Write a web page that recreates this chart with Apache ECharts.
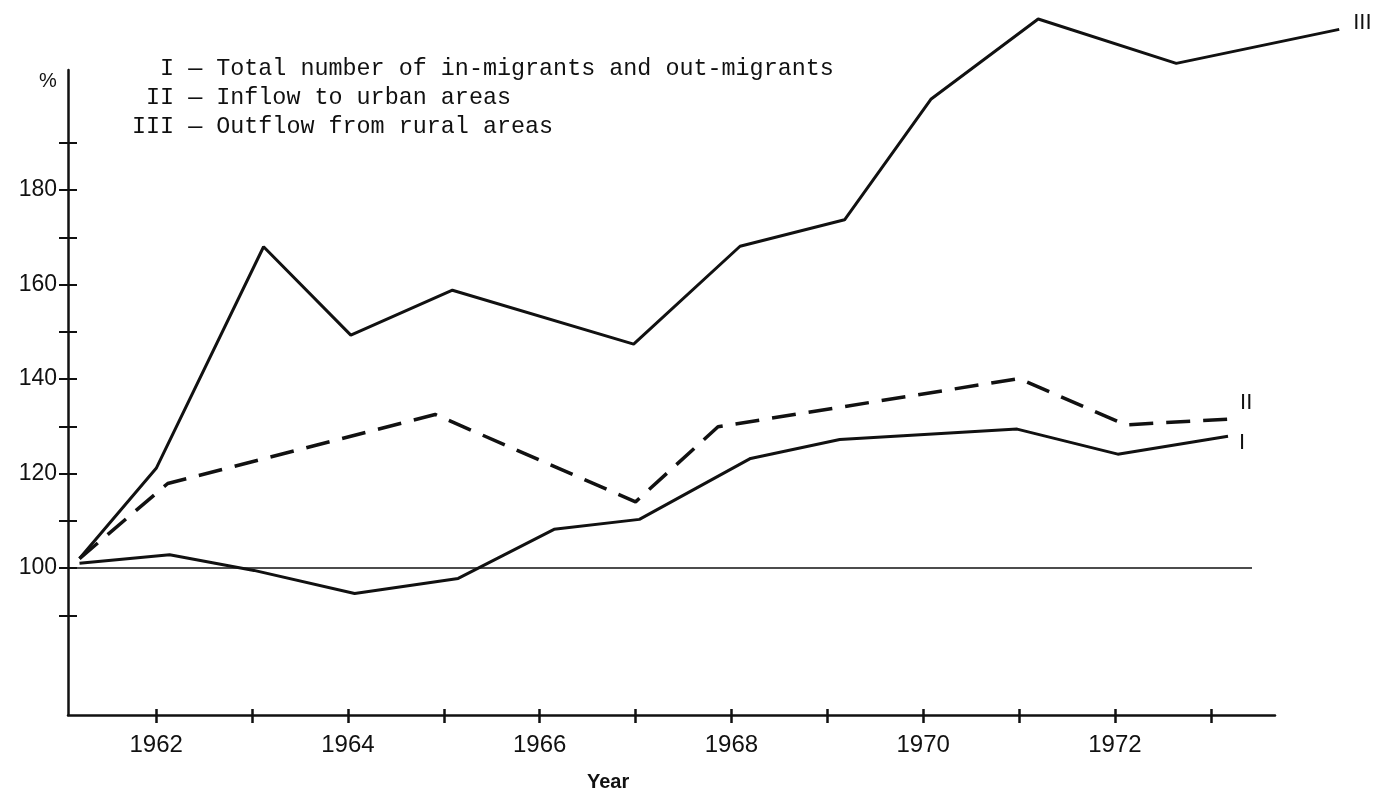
<!DOCTYPE html>
<html>
<head>
<meta charset="utf-8">
<title>Migration indices 1961-1973</title>
<script src="https://cdn.jsdelivr.net/npm/echarts@6.0.0/dist/echarts.min.js"></script>
<style>
  html, body { margin: 0; padding: 0; background: #fff; }
  #main { width: 1386px; height: 796px; }
</style>
</head>
<body>
<div id="main"></div>
<script>
// index, 1961 = 100; x = position in years
const totalMigrants = [
  [1961.2, 101], [1962.14, 102.8], [1963.02, 99.5], [1964.07, 94.6], [1965.15, 97.8],
  [1966.15, 108.2], [1967.04, 110.3], [1968.2, 123.2], [1969.13, 127.2],
  [1970.98, 129.4], [1972.03, 124.1], [1973.18, 127.9]
];
const urbanInflow = [
  [1961.2, 102], [1962.12, 117.9], [1964.91, 132.5], [1967.0, 114.0],
  [1967.86, 129.9], [1971.0, 140.1], [1972.11, 130.3], [1973.18, 131.5]
];
const ruralOutflow = [
  [1961.2, 102], [1962.0, 121.1], [1963.12, 168.0], [1964.03, 149.3],
  [1965.09, 158.8], [1966.98, 147.4], [1968.09, 168.1], [1969.18, 173.7],
  [1970.08, 199.2], [1971.2, 216.2], [1972.64, 206.8], [1974.34, 214.0]
];
const baseline = [[1961.08, 100], [1973.43, 100]];

const yearTicks = [1962, 1963, 1964, 1965, 1966, 1967, 1968, 1969, 1970, 1971, 1972, 1973];
const yearLabels = [1962, 1964, 1966, 1968, 1970, 1972];
const pctTicks = [90, 100, 110, 120, 130, 140, 150, 160, 170, 180, 190];
const pctLabels = [100, 120, 140, 160, 180];

const legendLines = [
  '  I \u2014 Total number of in-migrants and out-migrants',
  ' II \u2014 Inflow to urban areas',
  'III \u2014 Outflow from rural areas'
];

const ink = '#111';
const xRange = { min: 1961.08, max: 1973.67 };
const yRange = { min: 68.9, max: 205.4 };

// the drawn axis is 1207px wide; the series sit in a wider grid with the same scale
// so that line III can run past the end of the x axis (lines are always clipped along x)
const axisWidth = 1207;
const wideWidth = 1308;
const wideMax = xRange.min + wideWidth * (xRange.max - xRange.min) / axisWidth;

const myChart = echarts.init(document.getElementById('main'));

const hidden = { show: false };

const option = {
  animation: false,
  backgroundColor: '#fff',
  title: [
    {
      text: legendLines.join('\n'),
      left: 132, top: 54, padding: 0,
      textStyle: { fontFamily: 'Liberation Mono', fontSize: 23.4, fontWeight: 'normal', lineHeight: 29, color: ink }
    },
    {
      text: '%', left: 39, top: 71, padding: 0,
      textStyle: { fontFamily: 'Liberation Sans', fontSize: 20, fontWeight: 'normal', color: ink }
    },
    {
      text: 'Year', left: 587, top: 772, padding: 0,
      textStyle: { fontFamily: 'Liberation Sans', fontSize: 20, fontWeight: 'bold', color: ink }
    }
  ],
  grid: [
    { left: 68, width: axisWidth, top: 70, bottom: 81, containLabel: false, outerBoundsMode: 'none' },
    { left: 68, width: wideWidth, top: 70, bottom: 81, containLabel: false, outerBoundsMode: 'none' }
  ],
  xAxis: [
    {
      type: 'value', gridIndex: 0, ...xRange, position: 'bottom',
      axisLine: { show: true, onZero: false, lineStyle: { color: ink, width: 2.5 } },
      axisTick: { show: true, customValues: yearTicks, length: 8, lineStyle: { color: ink, width: 2.5 } },
      axisLabel: {
        customValues: yearLabels, margin: 18, formatter: v => String(v),
        fontFamily: 'Liberation Sans', fontSize: 24, color: ink
      },
      splitLine: hidden
    },
    {
      type: 'value', gridIndex: 0, ...xRange, position: 'bottom',
      axisLine: { show: false, onZero: false },
      axisTick: { show: true, inside: true, customValues: yearTicks, length: 6, lineStyle: { color: ink, width: 2.5 } },
      axisLabel: hidden,
      splitLine: hidden
    },
    {
      type: 'value', gridIndex: 1, min: xRange.min, max: wideMax, show: false
    }
  ],
  yAxis: [
    {
      type: 'value', gridIndex: 0, ...yRange, position: 'left',
      axisLine: { show: true, onZero: false, lineStyle: { color: ink, width: 2.5 } },
      axisTick: { show: true, customValues: pctTicks, length: 9, lineStyle: { color: ink, width: 2 } },
      axisLabel: { customValues: pctLabels, margin: 11, fontFamily: 'Liberation Sans', fontSize: 23, color: ink },
      splitLine: hidden
    },
    {
      type: 'value', gridIndex: 0, ...yRange, position: 'left',
      axisLine: { show: false, onZero: false },
      axisTick: { show: true, inside: true, customValues: pctTicks, length: 9, lineStyle: { color: ink, width: 2 } },
      axisLabel: hidden,
      splitLine: hidden
    },
    {
      type: 'value', gridIndex: 1, ...yRange, show: false
    }
  ],
  series: [
    {
      name: 'base', type: 'line', xAxisIndex: 2, yAxisIndex: 2, data: baseline,
      symbol: 'none', silent: true,
      lineStyle: { color: ink, width: 1.5 }
    },
    {
      name: 'I', type: 'line', xAxisIndex: 2, yAxisIndex: 2, data: totalMigrants,
      symbol: 'none', clip: false, silent: true,
      lineStyle: { color: ink, width: 3 },
      endLabel: {
        show: true, formatter: 'I', distance: 0, offset: [11, 7],
        fontFamily: 'Liberation Sans', fontSize: 22, color: ink
      }
    },
    {
      name: 'II', type: 'line', xAxisIndex: 2, yAxisIndex: 2, data: urbanInflow,
      symbol: 'none', clip: false, silent: true,
      lineStyle: { color: ink, width: 3.5, type: [24, 13] },
      endLabel: {
        show: true, formatter: 'II', distance: 0, offset: [12, -16],
        fontFamily: 'Liberation Sans', fontSize: 22, color: ink
      }
    },
    {
      name: 'III', type: 'line', xAxisIndex: 2, yAxisIndex: 2, data: ruralOutflow,
      symbol: 'none', clip: false, silent: true,
      lineStyle: { color: ink, width: 3 },
      endLabel: {
        show: true, formatter: 'III', distance: 0, offset: [14, -6],
        fontFamily: 'Liberation Sans', fontSize: 22, color: ink
      }
    }
  ]
};

myChart.setOption(option);
window.addEventListener('resize', function () { myChart.resize(); });
</script>
</body>
</html>
